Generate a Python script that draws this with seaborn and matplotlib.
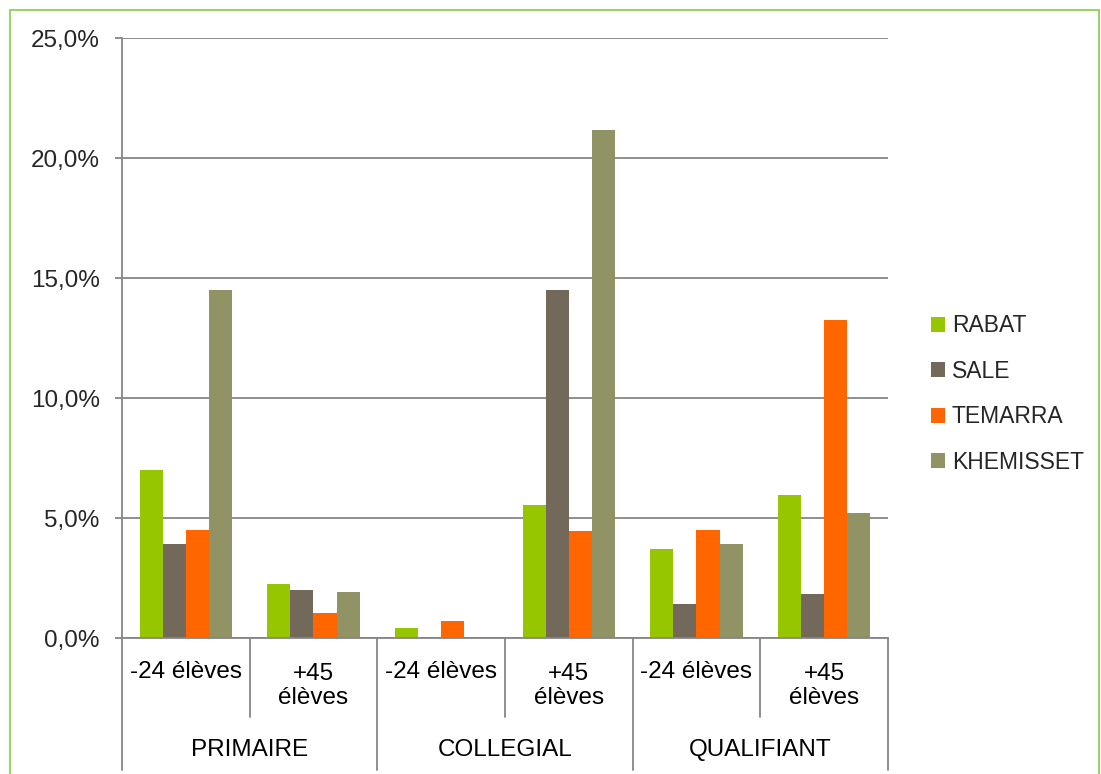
import matplotlib
matplotlib.use("Agg")
import matplotlib.pyplot as plt
import seaborn as sns
import pandas as pd
from matplotlib.transforms import blended_transform_factory
from matplotlib.ticker import FuncFormatter, MultipleLocator
from matplotlib.patches import Rectangle

# ---- data ----
levels = ["PRIMAIRE", "COLLEGIAL", "QUALIFIANT"]
classes = ["-24 élèves", "+45\nélèves"]
cities = ["RABAT", "SALE", "TEMARRA", "KHEMISSET"]
rabat = [7.0, 2.25, 0.4, 5.55, 3.7, 5.95]
sale = [3.9, 2.0, 0.0, 14.5, 1.4, 1.85]
temarra = [4.5, 1.05, 0.7, 4.45, 4.5, 13.25]
khemisset = [14.5, 1.9, 0.0, 21.15, 3.9, 5.2]
colors = {"RABAT": "#96c600", "SALE": "#72695a", "TEMARRA": "#ff6600", "KHEMISSET": "#929365"}

cats = [f"{lvl}|{cls}" for lvl in levels for cls in classes]
series = {"RABAT": rabat, "SALE": sale, "TEMARRA": temarra, "KHEMISSET": khemisset}
rows = []
for city in cities:
    for c, v in zip(cats, series[city]):
        rows.append({"cat": c, "ville": city, "val": v})
df = pd.DataFrame(rows)

sns.set_style("white")
plt.rcParams["font.family"] = ["Liberation Sans", "DejaVu Sans"]

W, H = 1101, 774
fig = plt.figure(figsize=(W / 100, H / 100), dpi=100)
ax = fig.add_axes([122 / W, (H - 638) / H, 766 / W, 600 / H])

sns.barplot(data=df, x="cat", y="val", hue="ville", order=cats, hue_order=cities,
            palette=colors, width=0.725, ax=ax, errorbar=None, linewidth=0,
            saturation=1)

gray = "#868686"
ax.set_ylim(0, 25)
ax.set_xlim(-0.5, 5.5)
ax.yaxis.set_major_locator(MultipleLocator(5))
ax.yaxis.set_major_formatter(FuncFormatter(lambda v, p: f"{v:.1f}".replace(".", ",") + "%"))
ax.grid(axis="y", color=gray, lw=1.3)
ax.set_axisbelow(True)
for s in ["top", "right"]:
    ax.spines[s].set_visible(False)
for s in ["left", "bottom"]:
    ax.spines[s].set_color(gray)
    ax.spines[s].set_linewidth(1.3)
ax.tick_params(axis="y", left=True, length=5, width=1.3, color=gray, pad=11,
               labelsize=17.5, direction="out")
ax.set_xticks([])
ax.set_xlabel("")
ax.set_ylabel("")

# legend
handles, labels = ax.get_legend_handles_labels()
if ax.legend_ is not None:
    ax.legend_.remove()
fig.legend(handles, labels, loc="center left", bbox_to_anchor=(910 / W, 1 - 394 / H),
           frameon=False, fontsize=16.5, handlelength=0.62, handleheight=0.62,
           handletextpad=0.3, labelspacing=0.98)

# category axis labels and separators
trans = blended_transform_factory(ax.transData, fig.transFigure)
for i, c in enumerate(cats):
    cls = c.split("|")[1]
    y = 1 - (686 if "\n" in cls else 672) / H
    ax.text(i, y, cls, ha="center", va="center", linespacing=1.12,
            transform=trans, fontsize=17.5, color="black")
for j, lvl in enumerate(levels):
    ax.text(2 * j + 0.5, 1 - 750 / H, lvl, ha="center", va="center",
            transform=trans, fontsize=17.5, color="black")

y_axis = 1 - 638 / H
for x in [0.5, 2.5, 4.5]:
    ax.plot([x, x], [y_axis, 1 - 717 / H], transform=trans, clip_on=False, color=gray, lw=1.3)
for x in [-0.5, 1.5, 3.5, 5.5]:
    ax.plot([x, x], [y_axis, 1 - 770 / H], transform=trans, clip_on=False, color=gray, lw=1.3)

# outer green border
fig.patches.append(Rectangle((9.5 / W, -0.05), (1099 - 9.5) / W, (H - 9.5) / H + 0.05,
                             transform=fig.transFigure, fill=False,
                             edgecolor="#9ad464", lw=1.5))

fig.savefig("out.png", dpi=100)
